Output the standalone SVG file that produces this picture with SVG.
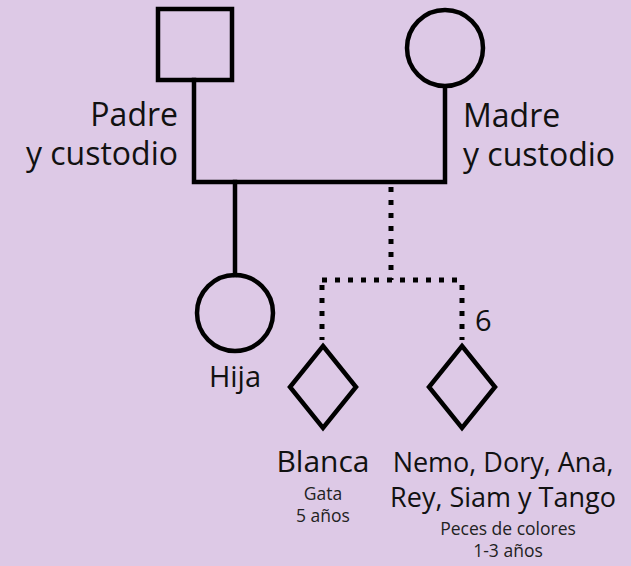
<svg xmlns="http://www.w3.org/2000/svg" width="631" height="566" viewBox="0 0 631 566">
<style>
.sym{fill:none;stroke:#000;stroke-width:4.5}
.ln{fill:none;stroke:#000;stroke-width:4.5;stroke-linecap:square}
.dot{fill:none;stroke:#000;stroke-width:5;stroke-dasharray:5 8}
.t{font-family:"Open Sans","Liberation Sans",sans-serif;font-size:32px;fill:#111}
.m{font-family:"Open Sans","Liberation Sans",sans-serif;font-size:27px;fill:#111}
.s{font-family:"Open Sans","Liberation Sans",sans-serif;font-size:17.5px;fill:#222}
</style>
<rect width="631" height="566" fill="#ddc9e6"/>
<g id="connectors">
<path class="ln" d="M194 80 V182 H445 V87"/>
<path class="ln" d="M235 182 V275"/>
<path class="dot" d="M391 187 V280"/>
<path class="dot" d="M322 280 H462"/>
<path class="dot" d="M322 285 V340"/>
<path class="dot" d="M462 285 V340"/>
</g>
<g id="padre">
<rect class="sym" x="158" y="9" width="74" height="71"/>
<text class="t" x="178" y="126" text-anchor="end">Padre</text>
<text class="t" x="178" y="165" text-anchor="end">y custodio</text>
</g>
<g id="madre">
<circle class="sym" cx="445" cy="48" r="38"/>
<text class="t" x="463" y="127">Madre</text>
<text class="t" x="463" y="166">y custodio</text>
</g>
<g id="hija">
<circle class="sym" cx="235" cy="313" r="38"/>
<text class="m" x="235" y="387" text-anchor="middle" style="font-size:29px">Hija</text>
</g>
<g id="blanca">
<path class="sym" d="M323 346 L356 387 L323 428 L290 387 Z"/>
<text class="m" x="323" y="472" text-anchor="middle" style="font-size:30px">Blanca</text>
<text class="s" x="323" y="500" text-anchor="middle">Gata</text>
<text class="s" x="323" y="522" text-anchor="middle">5 años</text>
</g>
<g id="peces">
<path class="sym" d="M462 346 L495 387 L462 428 L429 387 Z"/>
<text class="m" x="475" y="331" style="font-size:29px">6</text>
<text class="m" x="503" y="472" text-anchor="middle">Nemo, Dory, Ana,</text>
<text class="m" x="503" y="507" text-anchor="middle">Rey, Siam y Tango</text>
<text class="s" x="508" y="535" text-anchor="middle">Peces de colores</text>
<text class="s" x="508" y="557" text-anchor="middle">1-3 años</text>
</g>
</svg>
